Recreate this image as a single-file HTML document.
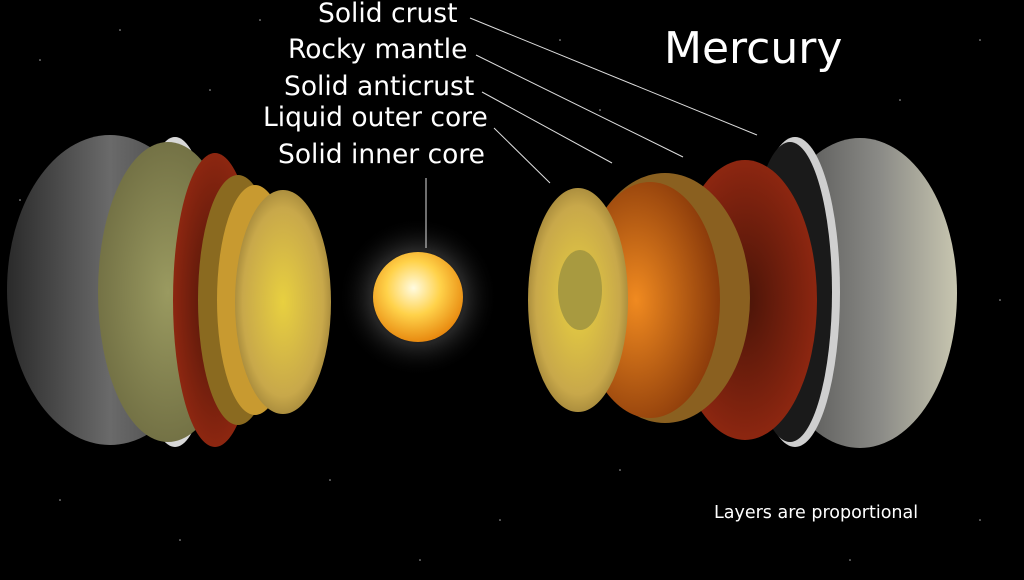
<!DOCTYPE html>
<html><head><meta charset="utf-8"><style>
html,body{margin:0;padding:0;background:#000;}
svg{display:block;}
text{font-family:"DejaVu Sans","Liberation Sans",sans-serif;fill:#fff;}
</style></head><body>
<svg width="1024" height="580" viewBox="0 0 1024 580" xmlns="http://www.w3.org/2000/svg">
<defs>
<radialGradient id="sun" cx="45%" cy="40%" r="60%">
<stop offset="0" stop-color="#fffbe0"/><stop offset="0.5" stop-color="#ffd24a"/><stop offset="1" stop-color="#e88a10"/></radialGradient>
<radialGradient id="glow" cx="50%" cy="50%" r="50%">
<stop offset="0.6" stop-color="#666" stop-opacity="0.35"/><stop offset="1" stop-color="#000" stop-opacity="0"/></radialGradient>
<linearGradient id="grayL" x1="0" x2="1"><stop offset="0" stop-color="#2a2a2a"/><stop offset="0.5" stop-color="#6a6a6a"/><stop offset="1" stop-color="#3a3a3a"/></linearGradient>
<linearGradient id="grayR" x1="0" x2="1"><stop offset="0" stop-color="#444"/><stop offset="0.6" stop-color="#8a8a86"/><stop offset="1" stop-color="#c8c6b0"/></linearGradient>
<radialGradient id="olive" cx="50%" cy="50%" r="60%"><stop offset="0" stop-color="#9a9a60"/><stop offset="1" stop-color="#6c6a40"/></radialGradient>
<radialGradient id="redc" cx="50%" cy="50%" r="60%"><stop offset="0" stop-color="#4a1408"/><stop offset="1" stop-color="#9a2a12"/></radialGradient>
<radialGradient id="mant" cx="40%" cy="50%" r="60%"><stop offset="0" stop-color="#f08a20"/><stop offset="1" stop-color="#8a3a0a"/></radialGradient>
<radialGradient id="core" cx="50%" cy="50%" r="60%"><stop offset="0" stop-color="#e8d040"/><stop offset="0.7" stop-color="#c8a84a"/><stop offset="1" stop-color="#8a7030"/></radialGradient>
</defs>
<rect width="1024" height="580" fill="#000"/>
<g fill="#aaa">
<circle cx="40" cy="60" r="0.8"/><circle cx="120" cy="30" r="0.8"/><circle cx="210" cy="90" r="0.8"/><circle cx="560" cy="40" r="0.8"/><circle cx="600" cy="110" r="0.8"/><circle cx="900" cy="100" r="0.8"/><circle cx="980" cy="40" r="0.8"/><circle cx="60" cy="500" r="0.8"/><circle cx="180" cy="540" r="0.8"/><circle cx="330" cy="480" r="0.8"/><circle cx="500" cy="520" r="0.8"/><circle cx="620" cy="470" r="0.8"/><circle cx="980" cy="520" r="0.8"/><circle cx="1000" cy="300" r="0.8"/><circle cx="20" cy="200" r="0.8"/><circle cx="850" cy="560" r="0.8"/><circle cx="420" cy="560" r="0.8"/><circle cx="260" cy="20" r="0.8"/>
</g>
<!-- sun -->
<circle cx="418" cy="297" r="80" fill="url(#glow)"/>
<circle cx="418" cy="297" r="45" fill="url(#sun)"/>
<!-- left planet -->
<ellipse cx="110" cy="290" rx="103" ry="155" fill="url(#grayL)"/>
<ellipse cx="175" cy="292" rx="40" ry="155" fill="#d8d8d8"/>
<ellipse cx="168" cy="292" rx="70" ry="150" fill="url(#olive)"/>
<ellipse cx="215" cy="300" rx="42" ry="147" fill="url(#redc)"/>
<ellipse cx="238" cy="300" rx="40" ry="125" fill="#8a6a20"/>
<ellipse cx="255" cy="300" rx="38" ry="115" fill="#c89a30"/>
<ellipse cx="283" cy="302" rx="48" ry="112" fill="url(#core)"/>
<!-- right planet -->
<ellipse cx="860" cy="293" rx="97" ry="155" fill="url(#grayR)"/>
<ellipse cx="795" cy="292" rx="45" ry="155" fill="#cfcfcf"/>
<ellipse cx="790" cy="292" rx="42" ry="150" fill="#1a1a1a"/>
<ellipse cx="745" cy="300" rx="72" ry="140" fill="url(#redc)"/>
<ellipse cx="665" cy="298" rx="85" ry="125" fill="#8a6020"/>
<ellipse cx="650" cy="300" rx="70" ry="118" fill="url(#mant)"/>
<ellipse cx="578" cy="300" rx="50" ry="112" fill="url(#core)"/>
<ellipse cx="580" cy="290" rx="22" ry="40" fill="#a89a40"/>
<!-- leader lines -->
<g stroke="#ddd" stroke-width="1" fill="none">
<line x1="470" y1="18" x2="757" y2="135"/>
<line x1="476" y1="55" x2="683" y2="157"/>
<line x1="482" y1="92" x2="612" y2="163"/>
<line x1="494" y1="128" x2="550" y2="183"/>
<line x1="426" y1="178" x2="426" y2="248"/>
</g>
<!-- labels -->
<text x="318" y="22" font-size="26.5">Solid crust</text>
<text x="288" y="58" font-size="26.5">Rocky mantle</text>
<text x="284" y="95" font-size="26.5">Solid anticrust</text>
<text x="263" y="126" font-size="26.5">Liquid outer core</text>
<text x="278" y="163" font-size="26.5">Solid inner core</text>
<text x="664" y="63" font-size="44">Mercury</text>
<text x="714" y="518" font-size="17.5">Layers are proportional</text>
</svg>
</body></html>
